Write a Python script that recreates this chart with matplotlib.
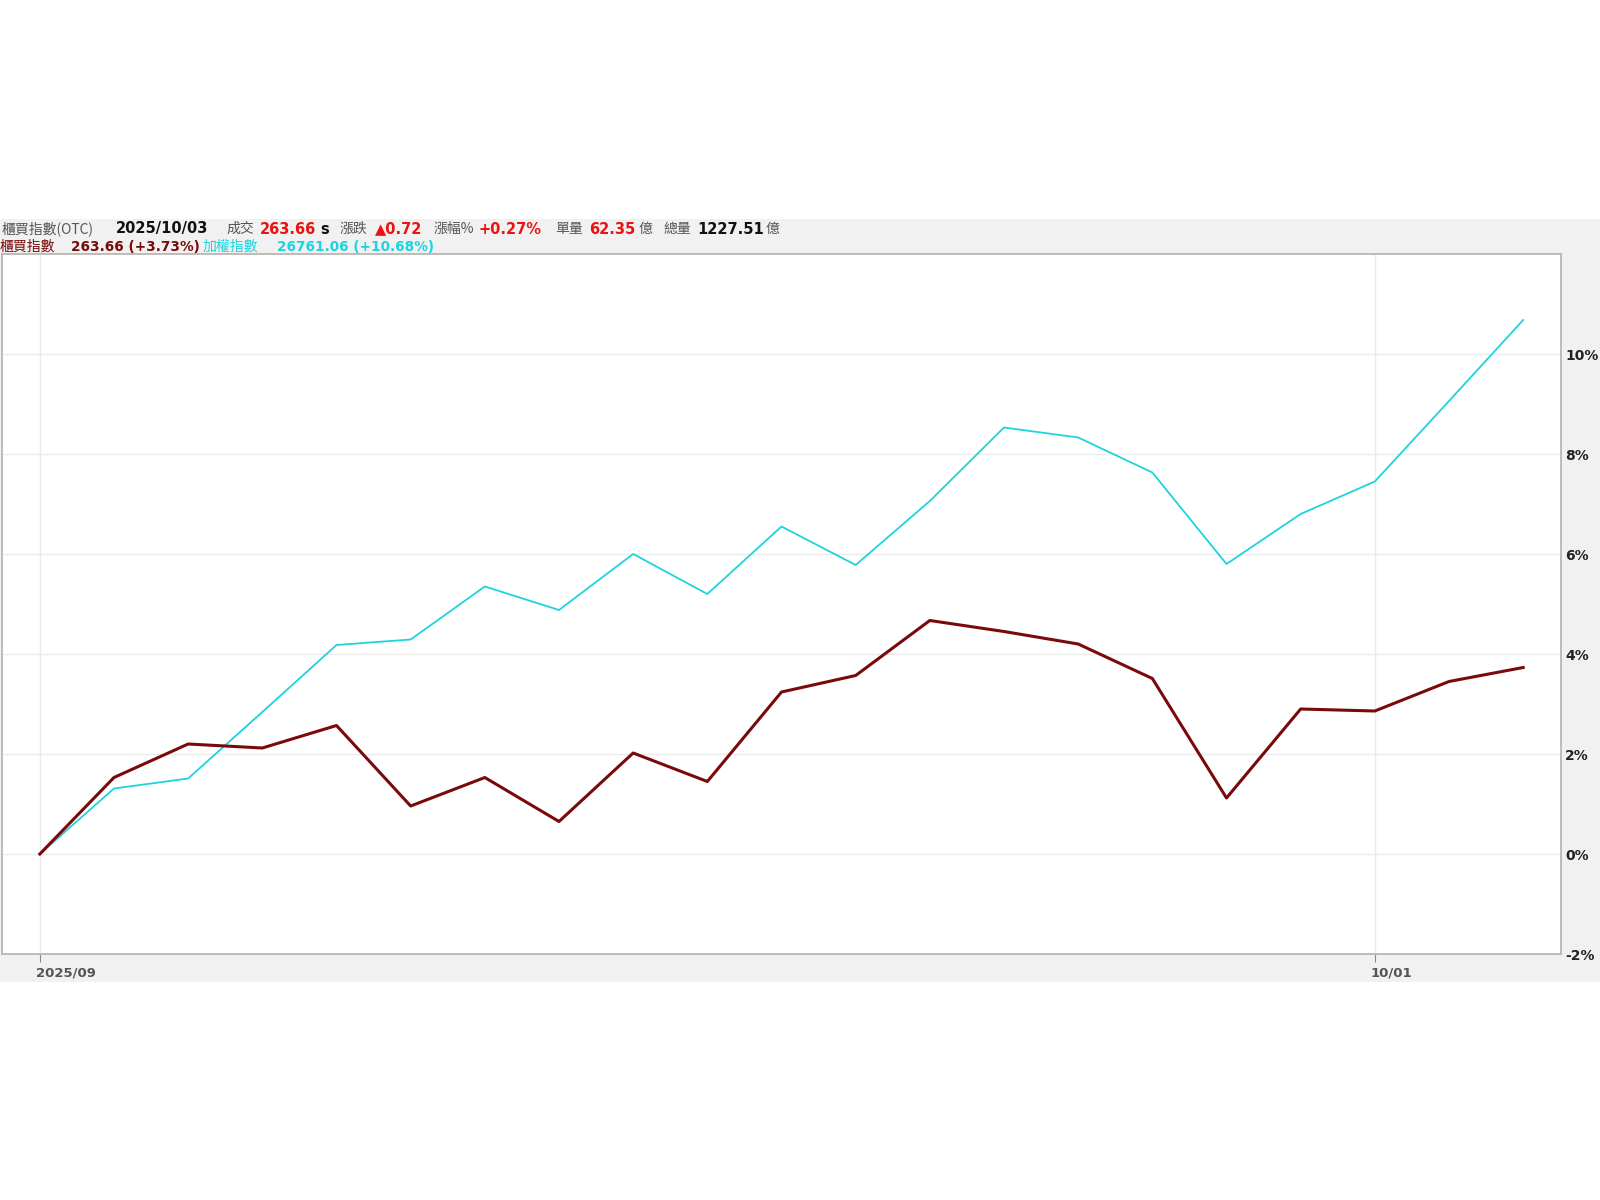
import matplotlib
matplotlib.use("Agg")
import matplotlib.pyplot as plt
import matplotlib.transforms as mtrans
from matplotlib.patches import Rectangle

plt.rcParams['font.family'] = ['DejaVu Sans', 'Noto Sans CJK TC']

# ---- data (percent change since start) ----
otc_pct = [0.00, 1.53, 2.20, 2.12, 2.57, 0.96, 1.53, 0.65, 2.02, 1.45,
           3.24, 3.57, 4.67, 4.45, 4.20, 3.51, 1.12, 2.90, 2.86, 3.45, 3.73]
taiex_pct = [0.00, 1.31, 1.51, 2.84, 4.18, 4.29, 5.35, 4.88, 6.00, 5.20,
             6.55, 5.78, 7.06, 8.53, 8.33, 7.63, 5.80, 6.80, 7.45, 9.06, 10.68]
xtick_idx = [0, 18]
xtick_labels = ["2025/09", "10/01"]
ytick_vals = [-2, 0, 2, 4, 6, 8, 10]
ytick_labels = ["-2%", "0%", "2%", "4%", "6%", "8%", "10%"]

W, H = 1600, 1200
fig = plt.figure(figsize=(16, 12), dpi=100)
fig.patch.set_facecolor('white')

def fx(px):
    return px / W

def fy(py):
    return 1 - py / H

# gray band
fig.patches.append(Rectangle((0, fy(982)), 1, fy(219) - fy(982), transform=fig.transFigure,
                             facecolor='#f0f1f0', edgecolor='none', zorder=-10))

ax = fig.add_axes([fx(2), fy(954), fx(1561) - fx(2), fy(254) - fy(954)])
ax.set_zorder(5)
ax.set_facecolor('white')

x = list(range(len(otc_pct)))
ax.plot(x, taiex_pct, color='#1ed3df', lw=1.3, zorder=3)
ax.plot(x, otc_pct, color='#7a0a0a', lw=2.2, zorder=4)

ax.set_xlim(-0.51, len(otc_pct) - 0.49)
ax.set_ylim(-2, 12)

for s in ax.spines.values():
    s.set_color('#b8b0ab')
    s.set_linewidth(1.2)

ax.set_yticks(ytick_vals)
ax.set_yticklabels(ytick_labels)
ax.yaxis.tick_right()
ax.tick_params(axis='y', length=0, pad=3, labelsize=10, labelcolor='#222222')
for t in ax.get_yticklabels():
    t.set_fontweight('bold')
    t.set_family(['DejaVu Sans'])

ax.set_xticks(xtick_idx)
ax.set_xticklabels(xtick_labels)
ax.tick_params(axis='x', length=6, color='#888888', direction='out', pad=3,
               labelsize=9.5, labelcolor='#555555')
offset = mtrans.ScaledTranslation(-4 / 100, 0, fig.dpi_scale_trans)
for t in ax.get_xticklabels():
    t.set_fontweight('bold')
    t.set_family(['DejaVu Sans'])
    t.set_horizontalalignment('left')
    t.set_transform(t.get_transform() + offset)

ax.grid(True, color='#ebebeb', lw=1.0, zorder=0)
ax.set_axisbelow(True)

# header text
cjk = ['Noto Sans CJK TC', 'DejaVu Sans']
row1 = 229
row2 = 247
items1 = [
    (2, "櫃買指數(OTC)", '#555555', 'normal', cjk, 10),
    (116, "2025/10/03", '#111111', 'bold', ['DejaVu Sans'], 10.5),
    (226, "成交", '#555555', 'normal', cjk, 10),
    (260, "263.66", '#ee1111', 'bold', ['DejaVu Sans'], 10.5),
    (320, "s", '#111111', 'bold', ['DejaVu Sans'], 10.5),
    (340, "漲跌", '#555555', 'normal', cjk, 10),
    (375, "▲0.72", '#ee1111', 'bold', ['DejaVu Sans'], 10.5),
    (434, "漲幅%", '#555555', 'normal', cjk, 10),
    (479, "+0.27%", '#ee1111', 'bold', ['DejaVu Sans'], 10.5),
    (555, "單量", '#555555', 'normal', cjk, 10),
    (589, "62.35", '#ee1111', 'bold', ['DejaVu Sans'], 10.5),
    (639, "億", '#555555', 'normal', cjk, 10),
    (663, "總量", '#555555', 'normal', cjk, 10),
    (697, "1227.51", '#111111', 'bold', ['DejaVu Sans'], 10.5),
    (766, "億", '#555555', 'normal', cjk, 10),
]
items2 = [
    (0, "櫃買指數", '#7a0a0a', 'normal', cjk, 10),
    (71, "263.66 (+3.73%)", '#7a0a0a', 'bold', ['DejaVu Sans'], 9.8),
    (203, "加權指數", '#1ed3df', 'normal', cjk, 10),
    (277, "26761.06 (+10.68%)", '#1ed3df', 'bold', ['DejaVu Sans'], 9.8),
]
for row, items in ((row1, items1), (row2, items2)):
    for px, s, c, w, fam, fs in items:
        fig.text(fx(px), fy(row), s, color=c, fontweight=w, family=fam,
                 fontsize=fs, ha='left', va='center')

fig.savefig('out.png', dpi=100, facecolor='white')
